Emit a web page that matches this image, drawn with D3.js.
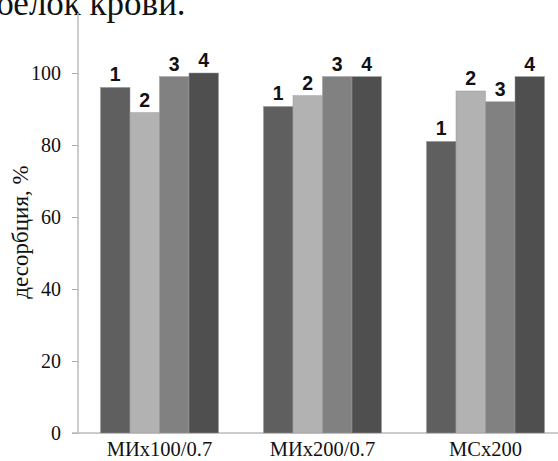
<!DOCTYPE html>
<html><head><meta charset="utf-8">
<script src="https://cdn.jsdelivr.net/npm/d3@7"></script>
<style>body{margin:0;background:#fff}</style>
</head><body>
<svg id="c" width="558" height="461"></svg>
<script>
const categories = ["МИх100/0.7", "МИх200/0.7", "МСх200"];
const seriesNames = ["1", "2", "3", "4"];
const s1 = [96, 90.7, 81];
const s2 = [89, 93.7, 95];
const s3 = [99, 99, 92];
const s4 = [100, 99, 99];
const series = [s1, s2, s3, s4];
const yTicks = [0, 20, 40, 60, 80, 100];
const colors = ["#5f5f5f", "#b2b2b2", "#818181", "#4f4f4f"];

const svg = d3.select("#c");
const y = d3.scaleLinear().domain([0, 100]).range([433, 73]);
const x0 = d3.scaleBand().domain(categories).range([78, 567]).paddingInner(0.276).paddingOuter(0.138);
const x1 = d3.scaleBand().domain(seriesNames).range([0, x0.bandwidth()]).padding(0);

// top cut text (cut off in the reference too)
svg.append("text").attr("x", -4).attr("y", 15).attr("font-family", "Liberation Serif")
  .attr("font-size", 35).attr("fill", "#111").text("белок крови.");

// y axis
const yAxis = d3.axisLeft(y).tickValues(yTicks).tickSize(6).tickPadding(11);
const gy = svg.append("g").attr("transform", "translate(78,0)").call(yAxis);
gy.attr("font-size", null).attr("font-family", null);
gy.select(".domain").remove();
gy.selectAll(".tick line").attr("stroke", "#aaa");
gy.selectAll(".tick text").attr("font-family", "Liberation Serif").attr("font-size", 20).attr("fill", "#111");
svg.append("line").attr("x1", 78).attr("x2", 78).attr("y1", 13).attr("y2", 433).attr("stroke", "#bbb").attr("stroke-width", 1.5);

// x axis
svg.append("line").attr("x1", 72).attr("x2", 558).attr("y1", 433).attr("y2", 433).attr("stroke", "#bbb").attr("stroke-width", 1.5);
svg.append("g").selectAll("text").data(categories).join("text")
  .attr("x", d => x0(d) + x0.bandwidth() / 2).attr("y", 456)
  .attr("text-anchor", "middle").attr("font-family", "Liberation Serif").attr("font-size", 20.5).attr("fill", "#111")
  .text(d => d);

// y label
svg.append("text").attr("transform", "translate(28,232) rotate(-90)")
  .attr("text-anchor", "middle").attr("font-family", "Liberation Serif").attr("font-size", 23).attr("fill", "#111")
  .text("десорбция, %");

// bars
const groups = svg.append("g").selectAll("g").data(categories).join("g")
  .attr("transform", d => `translate(${x0(d)},0)`);
groups.each(function(cat, ci) {
  const g = d3.select(this);
  seriesNames.forEach((s, si) => {
    const v = series[si][ci];
    g.append("rect").attr("x", x1(s)).attr("y", y(v)).attr("width", x1.bandwidth()).attr("height", y(0) - y(v))
      .attr("fill", colors[si]).attr("stroke", "#999").attr("stroke-width", 0.5);
    g.append("text").attr("x", x1(s) + x1.bandwidth() / 2).attr("y", y(v) - 6)
      .attr("text-anchor", "middle").attr("font-family", "Liberation Sans").attr("font-weight", "bold")
      .attr("font-size", 19.5).attr("fill", "#111").text(s);
  });
});
</script>
</body></html>
